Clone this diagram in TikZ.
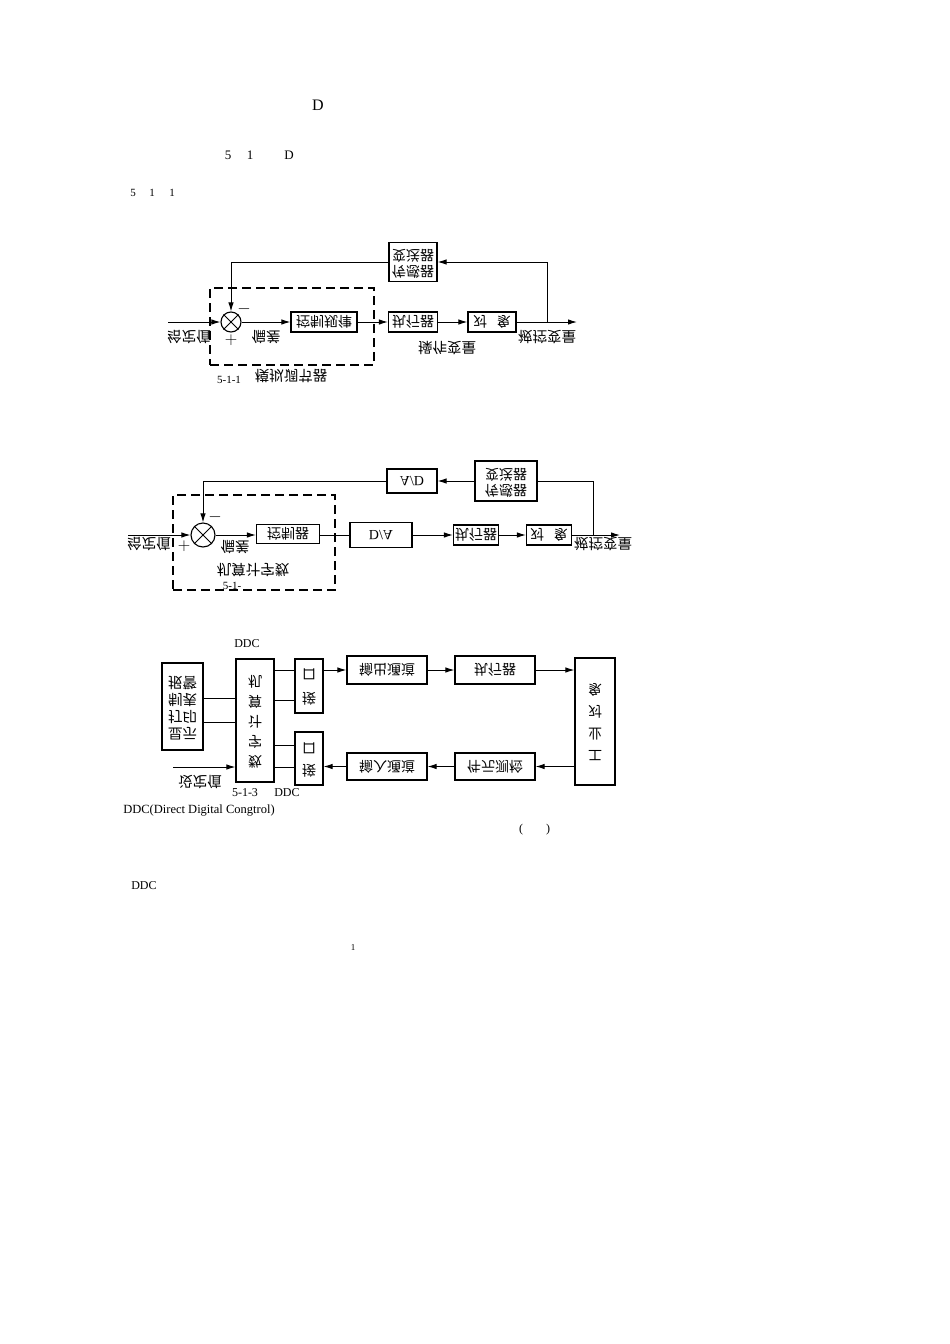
\documentclass[tikz,border=0pt]{standalone}
\usepackage{fontspec}
\setmainfont{Liberation Serif}
\newfontfamily\cjk{Noto Sans CJK SC}
\usepackage{graphicx}
\usetikzlibrary{arrows.meta}
\newcommand{\flipv}[1]{\scalebox{1}[-1]{#1}}
\newcommand{\stackc}[1]{\begin{tabular}{@{}c@{}}#1\end{tabular}}
\begin{document}
\begin{tikzpicture}[x=1pt, y=-1pt, line width=1pt,
  >={Latex[length=9pt,width=5.5pt]},
  blk/.style={draw, line width=1.2pt, inner sep=0pt, align=center,
    font=\cjk\fontsize{14}{16}\selectfont},
  lab/.style={inner sep=0pt, font=\cjk\fontsize{14.5}{16}\selectfont},
  txt/.style={inner sep=0pt, font=\fontsize{12}{14}\selectfont},
  sgn/.style={inner sep=0pt, font=\fontsize{17}{18}\selectfont},
  sumnode/.style={draw, circle, line width=1.1pt, inner sep=0pt},
  dashbox/.style={draw, dash pattern=on 9pt off 5pt, line width=1.1pt, inner sep=0pt}
]
\useasboundingbox (0,0) rectangle (950,1344);
\fill[white] (0,0) rectangle (950,1344);

% ---------- page text ----------
\node[txt, font=\fontsize{16}{18}\selectfont] (tD) at (318,105) {D};
\node[txt, font=\fontsize{13}{15}\selectfont] (t5a) at (228,155) {5};
\node[txt, font=\fontsize{13}{15}\selectfont] (t1a) at (250,155) {1};
\node[txt, font=\fontsize{13}{15}\selectfont] (tDa) at (289,155) {D};
\node[txt, font=\fontsize{11}{13}\selectfont] (t5b) at (133,193) {5};
\node[txt, font=\fontsize{11}{13}\selectfont] (t1b) at (152,193) {1};
\node[txt, font=\fontsize{11}{13}\selectfont] (t1c) at (172,193) {1};

% ---------- diagram 1 ----------
\node[sumnode, minimum size=20pt] (sum1) at (231,322) {};
\draw (sum1.north west) -- (sum1.south east) (sum1.north east) -- (sum1.south west);
\node[dashbox, minimum width=164pt, minimum height=77pt] (dash1) at (292,326.5) {};
\node[blk, minimum width=66pt, minimum height=20pt] (ctl1) at (324,322) {\flipv{控制规律}};
\node[blk, minimum width=49pt, minimum height=20pt] (act1) at (413,322) {\flipv{执行器}};
\node[blk, minimum width=48pt, minimum height=20pt] (obj1) at (492,322) {\flipv{对\hspace{0.7em}象}};
\node[blk, minimum width=48pt, minimum height=39pt] (fb1) at (413,262) {\flipv{\stackc{传感器\\变送器}}};
\coordinate (in1) at (168,322);
\coordinate (out1) at (577,322);
\coordinate (br1) at (547,322);
\draw[->] (in1) -- (sum1.west);
\draw[->] (sum1.east) -- (ctl1.west);
\draw[->] (ctl1.east) -- (act1.west);
\draw[->] (act1.east) -- (obj1.west);
\draw[->] (obj1.east) -- (out1);
\draw[->] (br1) |- (fb1.east);
\draw[->] (fb1.west) -| (sum1.north);
\node[lab] (l1in) at (189,337) {\flipv{给定值}};
\node[lab] (l1pe) at (266,337) {\flipv{偏差}};
\node[sgn] (l1p) at (231,340) {$+$};
\node[sgn] (l1m) at (244,309) {$-$};
\node[lab] (l1out) at (547,337) {\flipv{被控变量}};
\node[lab] (l1op) at (447,348) {\flipv{操作变量}};
\node[lab] (l1dash) at (291,376) {\flipv{模拟调节器}};
\node[txt, font=\fontsize{11}{13}\selectfont] (cap1) at (229,380) {5-1-1};

% ---------- diagram 2 ----------
\node[sumnode, minimum size=24pt] (sum2) at (203,535) {};
\draw (sum2.north west) -- (sum2.south east) (sum2.north east) -- (sum2.south west);
\node[dashbox, minimum width=162pt, minimum height=95pt] (dash2) at (254,542.5) {};
\node[blk, minimum width=63pt, minimum height=19pt] (ctl2) at (288,534) {\flipv{控制器}};
\node[blk, minimum width=62pt, minimum height=25pt, font=\fontsize{14}{15}\selectfont] (da2) at (381,535) {\flipv{D/A}};
\node[blk, minimum width=45pt, minimum height=20pt] (act2) at (476,535) {\flipv{执行器}};
\node[blk, minimum width=45pt, minimum height=20pt] (obj2) at (549,535) {\flipv{对\hspace{0.7em}象}};
\node[blk, minimum width=62pt, minimum height=40pt] (fb2) at (506,481) {\flipv{\stackc{传感器\\变送器}}};
\node[blk, minimum width=50pt, minimum height=24pt, font=\fontsize{14}{15}\selectfont] (ad2) at (412,481) {\flipv{A/D}};
\coordinate (in2) at (128,535);
\coordinate (out2) at (620,535);
\coordinate (br2) at (593,535);
\draw[->] (in2) -- (sum2.west);
\draw[->] (sum2.east) -- (ctl2.west |- sum2.east);
\draw (ctl2.east |- da2.west) -- (da2.west);
\draw[->] (da2.east) -- (act2.west);
\draw[->] (act2.east) -- (obj2.west);
\draw[->] (obj2.east) -- (out2);
\draw (br2) |- (fb2.east);
\draw[->] (fb2.west) -- (ad2.east);
\draw[->] (ad2.west) -| (sum2.north);
\node[lab] (l2in) at (149,544) {\flipv{给定值}};
\node[lab] (l2pe) at (235,547) {\flipv{偏差}};
\node[sgn] (l2p) at (184,546) {$+$};
\node[sgn] (l2m) at (215,517) {$-$};
\node[lab] (l2out) at (603,544) {\flipv{被控变量}};
\node[lab] (l2dash) at (253,570) {\flipv{机算计字数}};
\node[txt, font=\fontsize{11}{13}\selectfont] (cap2) at (232,586) {5-1-};

% ---------- diagram 3 ----------
\node[txt] (ddc0) at (247,644) {DDC};
\node[blk, minimum width=41pt, minimum height=87pt] (disp3) at (182.5,706.5)
  {\flipv{\fontsize{14.5}{16.5}\selectfont\stackc{显示\\打印\\制表\\报警}}};
\node[blk, minimum width=38pt, minimum height=123pt] (comp3) at (255,720.5)
  {\flipv{\fontsize{14}{20}\selectfont\stackc{数\\字\\计\\算\\机}}};
\node[blk, minimum width=28pt, minimum height=54pt] (if3) at (309,686)
  {\flipv{\fontsize{14}{24}\selectfont\stackc{接\\口}}};
\node[blk, minimum width=28pt, minimum height=53pt] (if3b) at (309,758.5)
  {\flipv{\fontsize{14}{22}\selectfont\stackc{接\\口}}};
\node[blk, minimum width=80pt, minimum height=28pt] (out3) at (387,670) {\flipv{输出通道}};
\node[blk, minimum width=80pt, minimum height=28pt] (act3) at (495,670) {\flipv{执行器}};
\node[blk, minimum width=40pt, minimum height=127pt] (plant3) at (595,721.5)
  {\flipv{\fontsize{14}{22}\selectfont\stackc{工\\业\\对\\象}}};
\node[blk, minimum width=80pt, minimum height=27pt] (det3) at (495,766.5) {\flipv{件元测检}};
\node[blk, minimum width=80pt, minimum height=27pt] (in3) at (387,766.5) {\flipv{输入通道}};
\coordinate (set3) at (173,767);
\draw (disp3.east |- 0,698) -- (comp3.west |- 0,698);
\draw (disp3.east |- 0,722) -- (comp3.west |- 0,722);
\draw (comp3.east |- 0,670) -- (if3.west |- 0,670);
\draw (comp3.east |- 0,700) -- (if3.west |- 0,700);
\draw (comp3.east |- 0,745) -- (if3b.west |- 0,745);
\draw (comp3.east |- 0,767) -- (if3b.west |- 0,767);
\draw[->] (if3.east |- out3.west) -- (out3.west);
\draw[->] (out3.east) -- (act3.west);
\draw[->] (act3.east) -- (plant3.west |- act3.east);
\draw[->] (plant3.west |- det3.east) -- (det3.east);
\draw[->] (det3.west) -- (in3.east);
\draw[->] (in3.west) -- (if3b.east |- in3.west);
\draw[->] (set3) -- (comp3.west |- set3);
\node[lab] (l3in) at (200,782) {\flipv{设定值}};
\node[txt] (cap3) at (245,793) {5-1-3};
\node[txt] (cap3b) at (287,793) {DDC};

% ---------- text below ----------
\node[txt, font=\fontsize{12.5}{14}\selectfont] (ddcfull) at (199,811) {DDC(Direct Digital Congtrol)};
\node[txt] (par1) at (521,830) {(};
\node[txt] (par2) at (548,830) {)};
\node[txt] (ddc2) at (144,886) {DDC};
\node[txt, font=\fontsize{9}{11}\selectfont] (pg) at (353,948) {1};
\end{tikzpicture}
\end{document}
